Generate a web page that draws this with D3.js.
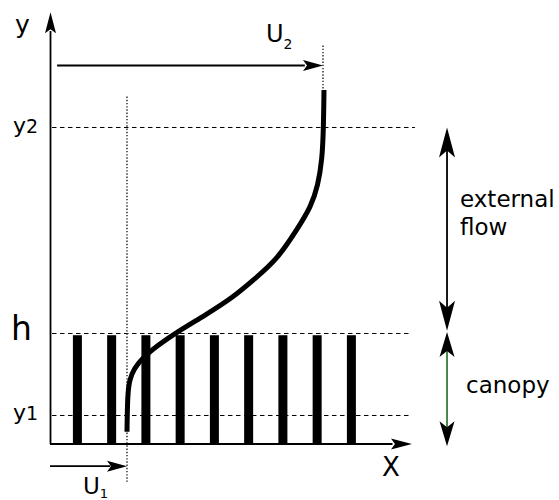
<!DOCTYPE html>
<html>
<head>
<meta charset="utf-8">
<script src="https://d3js.org/d3.v7.min.js"></script>
<style>
  body { margin: 0; background: #fff; }
  svg text { font-family: "DejaVu Sans", sans-serif; fill: #000; }
</style>
</head>
<body>
<div id="chart"></div>
<script>
// velocity profile (u / U2) against height (z / h)
var profileU = [1.0, 0.998, 0.993, 0.978, 0.953, 0.901, 0.828, 0.748, 0.668, 0.566, 0.464, 0.394, 0.339, 0.307, 0.290, 0.283, 0.281];
var profileZ = [3.19, 2.83, 2.56, 2.33, 2.14, 1.93, 1.66, 1.49, 1.32, 1.16, 1.01, 0.89, 0.78, 0.68, 0.58, 0.44, 0.11];

// canopy elements
var barPos = [0.10, 0.225, 0.35, 0.475, 0.60, 0.725, 0.85, 0.975, 1.10];
var barTop = 0.98;

// reference heights and velocities
var levelNames = ["y2", "h", "y1"];
var levelZ = [2.86, 1.0, 0.26];
var U1 = 0.281, U2 = 1.0;

var W = 559, H = 500;
var x = d3.scaleLinear().domain([0, 1]).range([50, 324]);
var y = d3.scaleLinear().domain([0, 1]).range([444, 333]);

var svg = d3.select("#chart").append("svg").attr("width", W).attr("height", H);

// arrow head: tip at (px,py), pointing along angle (deg)
function head(px, py, ang, len, hw, notch, color) {
  svg.append("path")
    .attr("d", "M0,0 L" + (-len) + "," + hw + " L" + (-len + notch) + ",0 L" + (-len) + "," + (-hw) + "Z")
    .attr("transform", "translate(" + px + "," + py + ") rotate(" + ang + ")")
    .attr("fill", color || "#000");
}

// dashed levels
var dashEnd = [1.332, 1.314, 1.314];
levelZ.forEach(function(z, i) {
  svg.append("line")
    .attr("x1", x(0) + 2).attr("x2", x(dashEnd[i]))
    .attr("y1", Math.round(y(z)) + 0.5).attr("y2", Math.round(y(z)) + 0.5)
    .attr("stroke", "#000").attr("stroke-width", 1.2)
    .attr("stroke-dasharray", "4.5,3.5");
});

// canopy bars
svg.selectAll("rect.bar").data(barPos).enter().append("rect")
  .attr("class", "bar")
  .attr("x", d => x(d) - 4.5)
  .attr("width", 9)
  .attr("y", y(barTop))
  .attr("height", y(0) - y(barTop))
  .attr("fill", "#000");

// dotted verticals at U1 and U2
svg.append("line")
  .attr("x1", x(U1)).attr("x2", x(U1))
  .attr("y1", y(3.13)).attr("y2", y(-0.34))
  .attr("stroke", "#222").attr("stroke-width", 1.4).attr("stroke-dasharray", "1.4,1.8");
svg.append("line")
  .attr("x1", x(U2) - 1).attr("x2", x(U2) - 1)
  .attr("y1", y(3.59)).attr("y2", y(3.19))
  .attr("stroke", "#222").attr("stroke-width", 1.4).attr("stroke-dasharray", "1.4,1.8");

// axes
svg.append("line").attr("x1", x(0) + 0.5).attr("x2", x(0) + 0.5)
  .attr("y1", y(0)).attr("y2", y(3.72))
  .attr("stroke", "#000").attr("stroke-width", 1.8);
head(x(0) + 0.5, y(3.89), -90, 21, 5.5, 4);
svg.append("line").attr("x1", x(0)).attr("x2", x(1.25))
  .attr("y1", y(0)).attr("y2", y(0))
  .attr("stroke", "#000").attr("stroke-width", 1.8);
head(x(1.321), y(0), 0, 21, 5.5, 4);

// velocity arrows
svg.append("line").attr("x1", x(0.026)).attr("x2", x(0.93))
  .attr("y1", y(3.41)).attr("y2", y(3.41))
  .attr("stroke", "#000").attr("stroke-width", 1.8);
head(x(U2) - 1, y(3.41), 0, 20, 5.5, 4);
svg.append("line").attr("x1", x(0)).attr("x2", x(0.22))
  .attr("y1", y(-0.2)).attr("y2", y(-0.2))
  .attr("stroke", "#000").attr("stroke-width", 1.8);
head(x(U1), y(-0.2), 0, 20, 5.5, 4);

// profile curve
var line = d3.line()
  .x((d, i) => x(profileU[i]))
  .y(d => y(d))
  .curve(d3.curveBasis);
svg.append("path").datum(profileZ)
  .attr("d", line)
  .attr("fill", "none").attr("stroke", "#000").attr("stroke-width", 5);

// double arrows on the right
var ax = x(1.449);
svg.append("line").attr("x1", ax).attr("x2", ax)
  .attr("y1", y(2.7)).attr("y2", y(1.15))
  .attr("stroke", "#000").attr("stroke-width", 1.8);
head(ax, y(2.86) + 1, -90, 30, 8, 7);
head(ax, y(1.02), 90, 30, 8, 7);
svg.append("line").attr("x1", ax).attr("x2", ax)
  .attr("y1", y(0.9)).attr("y2", y(0.1))
  .attr("stroke", "#1f6b1f").attr("stroke-width", 1.6);
head(ax, y(1.0) - 1, -90, 25, 7.5, 6);
head(ax, y(-0.02), 90, 25, 7.5, 6);

// labels
function label(tx, ty, main, sub, size, subSize, subDy) {
  var t = svg.append("text").attr("x", tx).attr("y", ty).style("font-size", size + "px").text(main);
  if (sub) t.append("tspan").attr("dy", subDy).style("font-size", subSize + "px").text(sub);
}
label(15, 33, "y", null, 25);
label(266, 42, "U", "2", 24, 14, 7);
label(13, 133, "y", "2", 22, 19, 0);
label(11, 340, "h", null, 33);
label(13, 420, "y", "1", 22, 19, 0);
label(83, 494, "U", "1", 23, 13, 4);
label(382, 476, "X", null, 26);
svg.append("text").attr("x", 460).attr("y", 207).style("font-size", "23px").text("external");
svg.append("text").attr("x", 460).attr("y", 235).style("font-size", "23px").text("flow");
svg.append("text").attr("x", 466).attr("y", 393).style("font-size", "23px").text("canopy");
</script>
</body>
</html>
